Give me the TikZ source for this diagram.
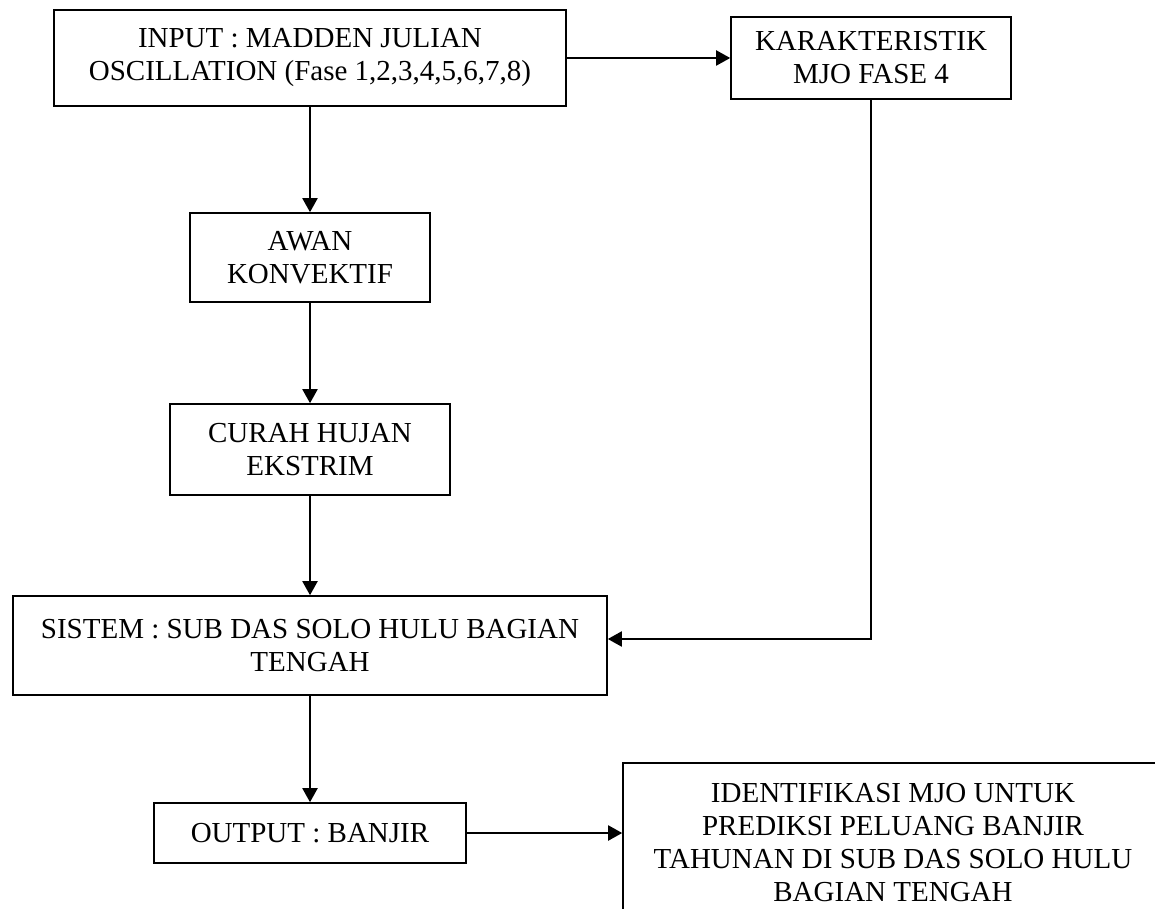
\documentclass[tikz,border=0pt]{standalone}
\usepackage{fontspec}
\setmainfont{Liberation Serif}
\usepackage{tikz}
\usetikzlibrary{arrows,arrows.meta,positioning,calc}

\begin{document}
\begin{tikzpicture}[x=0.5pt,y=-0.5pt]
  \tikzset{block/.style={draw,line width=0.8pt,align=center,inner sep=2pt,font=\fontsize{14.5}{16.5}\selectfont}}
  \tikzset{flow/.style={->,>={Triangle[length=7pt,width=7.5pt]},line width=1pt}}
  \useasboundingbox (0,0) rectangle (1155,909);
  \clip (0,0) rectangle (1155,909);
  % column of blocks
  \node[block,minimum width=256pt,minimum height=48pt] (input) at (310,58) {INPUT : MADDEN JULIAN\\OSCILLATION (Fase 1,2,3,4,5,6,7,8)};
  \node[block,minimum width=140pt,minimum height=41pt] (karakter) at (871,58) {KARAKTERISTIK\\MJO FASE 4};
  \node[block,minimum width=120pt,minimum height=44.5pt] (awan) at (310,257.5) {AWAN\\KONVEKTIF};
  \node[block,minimum width=140pt,minimum height=45.5pt] (curah) at (310,449.5) {CURAH HUJAN\\EKSTRIM};
  \node[block,minimum width=297pt,minimum height=49.5pt] (sistem) at (310,645.5) {SISTEM : SUB DAS SOLO HULU BAGIAN\\TENGAH};
  \node[block,minimum width=156pt,minimum height=30pt] (output) at (310,833) {OUTPUT : BANJIR};
  \node[block,minimum width=270pt,minimum height=80pt] (identifikasi) at (893,843) {IDENTIFIKASI MJO UNTUK\\PREDIKSI PELUANG BANJIR\\TAHUNAN DI SUB DAS SOLO HULU\\BAGIAN TENGAH};
  % arrows
  \draw[flow] (input)--(karakter);
  \draw[flow] (input)--(awan);
  \draw[flow] (awan)--(curah);
  \draw[flow] (curah)--(sistem);
  \draw[flow] (karakter) |- ([yshift=3.25pt]sistem.east);
  \draw[flow] (sistem)--(output);
  \draw[flow] (output)--(output -| identifikasi.west);
\end{tikzpicture}
\end{document}
